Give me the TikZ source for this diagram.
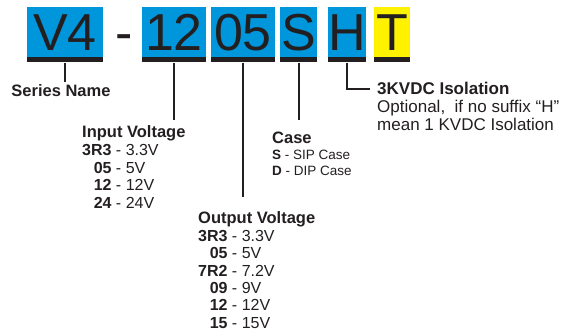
\documentclass[tikz,border=0pt]{standalone}
\usepackage{fontspec}
\setmainfont{Liberation Sans}
\definecolor{codeblue}{RGB}{0,150,220}
\definecolor{codeyellow}{RGB}{255,242,0}
\definecolor{ink}{RGB}{35,31,32}
\begin{document}
\begin{tikzpicture}[x=1pt,y=-1pt,
    codebox/.style={fill=codeblue,text=ink,inner sep=0pt,minimum height=50pt,
      text height=37.5pt,text depth=0pt,font=\fontsize{52}{52}\selectfont},
    codebar/.style={fill=ink,inner sep=0pt,minimum height=5pt,anchor=north},
    link/.style={draw=ink,line width=2pt},
    listtext/.style={text=ink,inner sep=0pt,anchor=base west,font=\fontsize{16}{17.6}\selectfont}]
    \useasboundingbox (0,0) rectangle (565,336);

    % code fields
    \node[codebox,minimum width=76pt] (v4) at (65,32) {V4};
    \node[text=ink,anchor=base,inner sep=0pt,font=\fontsize{52}{52}\selectfont] (dash) at (124,50.75) {-};
    \node[codebox,minimum width=64pt] (vin) at (174,32) {12};
    \node[codebox,minimum width=64pt] (vout) at (243,32) {05};
    \node[codebox,minimum width=37pt] (case) at (298.5,32) {S};
    \node[codebox,minimum width=38pt] (iso) at (347,32) {H};
    \node[codebox,fill=codeyellow,minimum width=36pt] (suffix) at (392,32) {T};

    \node[codebar,minimum width=76pt] (v4bar) at (v4.south) {};
    \node[codebar,minimum width=64pt] (vinbar) at (vin.south) {};
    \node[codebar,minimum width=64pt] (voutbar) at (vout.south) {};
    \node[codebar,minimum width=37pt] (casebar) at (case.south) {};
    \node[codebar,minimum width=38pt] (isobar) at (iso.south) {};
    \node[codebar,minimum width=36pt] (suffixbar) at (suffix.south) {};

    % labels
    \node[text=ink,inner sep=0pt,font=\fontsize{16.5}{18}\selectfont\bfseries] (sername) at (61,91) {Series Name};

    \node[listtext] (vinlist) at (82,138) {\begin{tabular}[t]{@{}r@{}l@{}}
      \multicolumn{2}{@{}l@{}}{\fontsize{16.5}{17.6}\selectfont\bfseries Input Voltage}\\
      \bfseries 3R3 & \ - 3.3V\\
      \bfseries 05 & \ - 5V\\
      \bfseries 12 & \ - 12V\\
      \bfseries 24 & \ - 24V
    \end{tabular}};

    \node[listtext,font=\fontsize{16}{17.4}\selectfont] (voutlist) at (198,224) {\begin{tabular}[t]{@{}r@{}l@{}}
      \multicolumn{2}{@{}l@{}}{\fontsize{16.5}{17.4}\selectfont\bfseries Output Voltage}\\
      \bfseries 3R3 & \ - 3.3V\\
      \bfseries 05 & \ - 5V\\
      \bfseries 7R2 & \ - 7.2V\\
      \bfseries 09 & \ - 9V\\
      \bfseries 12 & \ - 12V\\
      \bfseries 15 & \ - 15V
    \end{tabular}};

    \node[listtext,font=\fontsize{13.5}{16}\selectfont] (caselist) at (272,144) {\begin{tabular}[t]{@{}l@{}}
      {\fontsize{16.5}{16}\selectfont\bfseries Case}\\
      \textbf{S} - SIP Case\\
      \textbf{D} - DIP Case
    \end{tabular}};

    \node[listtext,font=\fontsize{17}{17.5}\selectfont\bfseries] (isohead) at (377,95) {3KVDC Isolation};
    \node[listtext,font=\fontsize{17}{17.5}\selectfont] (isonote) at (377,113) {\begin{tabular}[t]{@{}l@{}}
      Optional,\ \ if no suffix “H”\\
      mean 1 KVDC Isolation
    \end{tabular}};

    % connectors
    \draw[link,shorten >=3pt] (v4bar.south) -- (v4bar.south |- sername.north);
    \draw[link,shorten >=5.5pt] (vinbar.south) -- (vinbar.south |- vinlist.north);
    \draw[link,shorten >=14.5pt] (voutbar.south) -- (voutbar.south |- voutlist.north);
    \draw[link,shorten >=12pt] (casebar.south) -- (casebar.south |- caselist.north);
    \draw[link,shorten >=7pt] (isobar.south) |- (isohead.west);
  \end{tikzpicture}
\end{document}
